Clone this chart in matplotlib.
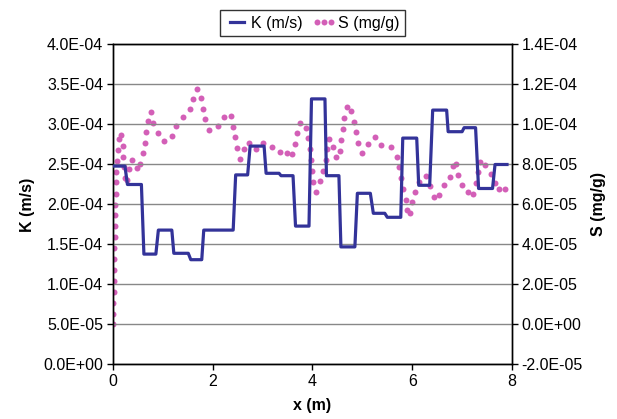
import numpy as np
import matplotlib
matplotlib.use("Agg")
import matplotlib.pyplot as plt
from matplotlib.lines import Line2D
from matplotlib.ticker import FuncFormatter

plt.rcParams['font.family'] = ['Liberation Sans', 'DejaVu Sans']
plt.rcParams['font.size'] = 11.5

# --- K (m/s): step profile corners ---
k_x = [0.00, 0.24, 0.29, 0.57, 0.62, 0.86, 0.91, 1.18, 1.22, 1.51, 1.56, 1.78,
       1.82, 2.41, 2.46, 2.70, 2.75, 3.03, 3.07, 3.33, 3.37, 3.61, 3.66, 3.93,
       3.98, 4.25, 4.28, 4.53, 4.57, 4.85, 4.90, 5.16, 5.22, 5.45, 5.50, 5.77,
       5.81, 6.09, 6.13, 6.35, 6.41, 6.69, 6.72, 7.00, 7.04, 7.27, 7.33, 7.61,
       7.66, 7.90]
k_e4 = [2.48, 2.48, 2.25, 2.25, 1.38, 1.38, 1.68, 1.68, 1.39, 1.39, 1.31, 1.31,
        1.68, 1.68, 2.37, 2.37, 2.73, 2.73, 2.39, 2.39, 2.36, 2.36, 1.73, 1.73,
        3.32, 3.32, 2.36, 2.36, 1.47, 1.47, 2.14, 2.14, 1.89, 1.89, 1.84, 1.84,
        2.83, 2.83, 2.24, 2.24, 3.18, 3.18, 2.91, 2.91, 2.96, 2.96, 2.20, 2.20,
        2.50, 2.50]

# --- S (mg/g): scattered points ---
s_x = [0.000, 0.004, 0.008, 0.012, 0.016, 0.020, 0.024, 0.028, 0.032, 0.036,
       0.040, 0.046, 0.058, 0.062, 0.066, 0.086, 0.100, 0.120,
       0.166, 0.194, 0.200, 0.220, 0.234, 0.281, 0.315, 0.387, 0.487, 0.551,
       0.595, 0.635, 0.671, 0.705, 0.756, 0.812, 0.896, 1.022, 1.176, 1.269,
       1.403, 1.537, 1.603, 1.677, 1.768, 1.808, 1.850, 1.924, 2.098, 2.224,
       2.365, 2.411, 2.445, 2.485, 2.545, 2.625, 2.731, 2.860, 3.012, 3.196,
       3.353, 3.483, 3.597, 3.653, 3.691, 3.747, 3.862, 3.912, 3.942, 3.972,
       3.994, 4.014, 4.068, 4.144, 4.208, 4.265, 4.295, 4.335, 4.415, 4.475,
       4.543, 4.569, 4.603, 4.635, 4.683, 4.776, 4.824, 4.864, 4.910, 4.990,
       5.110, 5.251, 5.377, 5.577, 5.691, 5.741, 5.778, 5.818, 5.866, 5.898,
       5.952, 5.998, 6.058, 6.138, 6.277, 6.359, 6.427, 6.543, 6.627, 6.760,
       6.820, 6.874, 6.924, 7.000, 7.118, 7.224, 7.279, 7.315, 7.361, 7.461,
       7.579, 7.669, 7.741, 7.850]
s_e5 = [0.00, 0.535, 1.085, 1.635, 2.185, 2.735, 3.27, 3.82, 4.37, 4.90,
        5.45, 5.985, 6.535, 7.10, 7.635, 8.185, 8.72, 9.27,
        9.485, 8.935, 8.385, 7.85, 7.30, 7.21, 7.76, 8.235, 7.82, 8.02,
        8.55, 9.095, 9.62, 10.16, 10.61, 10.075, 9.57, 9.15, 9.445, 9.945,
        10.37, 10.76, 11.285, 11.785, 11.335, 10.785, 10.25, 9.735, 9.935, 10.375,
        10.445, 9.895, 9.35, 8.82, 8.295, 8.77, 9.075, 8.77, 9.095, 8.875,
        8.62, 8.57, 8.52, 9.025, 9.56, 10.085, 9.835, 9.31, 8.77, 8.225,
        7.675, 7.125, 6.645, 7.15, 7.67, 8.21, 8.75, 9.285, 8.87, 8.35,
        8.685, 9.20, 9.75, 10.30, 10.85, 10.685, 10.135, 9.60, 9.07, 8.585,
        9.02, 9.385, 8.95, 8.85, 8.385, 7.86, 7.32, 6.785, 6.235, 5.71,
        5.575, 6.12, 6.635, 7.125, 7.41, 6.91, 6.385, 6.45, 6.95, 7.385,
        7.92, 8.02, 7.47, 6.97, 6.60, 6.52, 7.06, 7.60, 8.12, 7.985,
        7.545, 7.05, 6.785, 6.785]

k_vals = np.array(k_e4) * 1e-4
s_vals = np.array(s_e5) * 1e-5

LINE_COLOR = '#333399'
DOT_COLOR = '#d35fb7'

fig = plt.figure(figsize=(6.17, 4.19), dpi=100)
ax = fig.add_axes([0.1831, 0.1301, 0.6467, 0.7637])
ax2 = ax.twinx()

fmt = FuncFormatter(lambda v, pos: '{:.1E}'.format(v))

ax.set_xlim(0, 8)
ax.set_ylim(0, 4e-4)
ax.set_yticks(np.arange(0, 4.01e-4, 0.5e-4))
ax.set_xticks([0, 2, 4, 6, 8])
ax.yaxis.set_major_formatter(fmt)
ax.grid(axis='y', color='#888888', linewidth=1)
ax.set_axisbelow(True)

ax2.set_ylim(-2e-5, 1.4e-4)
ax2.set_yticks(np.arange(-2e-5, 1.41e-4, 2e-5))
ax2.yaxis.set_major_formatter(fmt)

ax2.plot(s_x, s_vals, linestyle='none', marker='o', markersize=4.3,
         color=DOT_COLOR, markeredgewidth=0)
ax.plot(k_x, k_vals, color=LINE_COLOR, linewidth=2.3, zorder=5)
ax.set_zorder(ax2.get_zorder() + 1)
ax.patch.set_visible(False)

for a in (ax, ax2):
    a.tick_params(direction='out', length=4, width=1, labelsize=11.5, pad=3)
    for sp in a.spines.values():
        sp.set_color('black')
        sp.set_linewidth(1)

ax.set_xlabel('x (m)', fontweight='bold', labelpad=6)
ax.set_ylabel('K (m/s)', fontweight='bold', labelpad=6)
ax2.set_ylabel('S (mg/g)', fontweight='bold', rotation=90, labelpad=6)

handles = [Line2D([0], [0], color=LINE_COLOR, linewidth=2.3),
           Line2D([0], [0], color=DOT_COLOR, linestyle='none', marker='o',
                  markersize=4.3, markeredgewidth=0)]
leg = fig.legend(handles, ['K (m/s)', 'S (mg/g)'], loc='center',
                 bbox_to_anchor=(0.506, 0.945), ncol=2, numpoints=3,
                 frameon=True, fancybox=False, edgecolor='black',
                 handlelength=1.5, handletextpad=0.1, columnspacing=0.6,
                 borderpad=0.35, fontsize=11.5)
leg.get_frame().set_linewidth(1)

fig.savefig('out.png', dpi=100)
